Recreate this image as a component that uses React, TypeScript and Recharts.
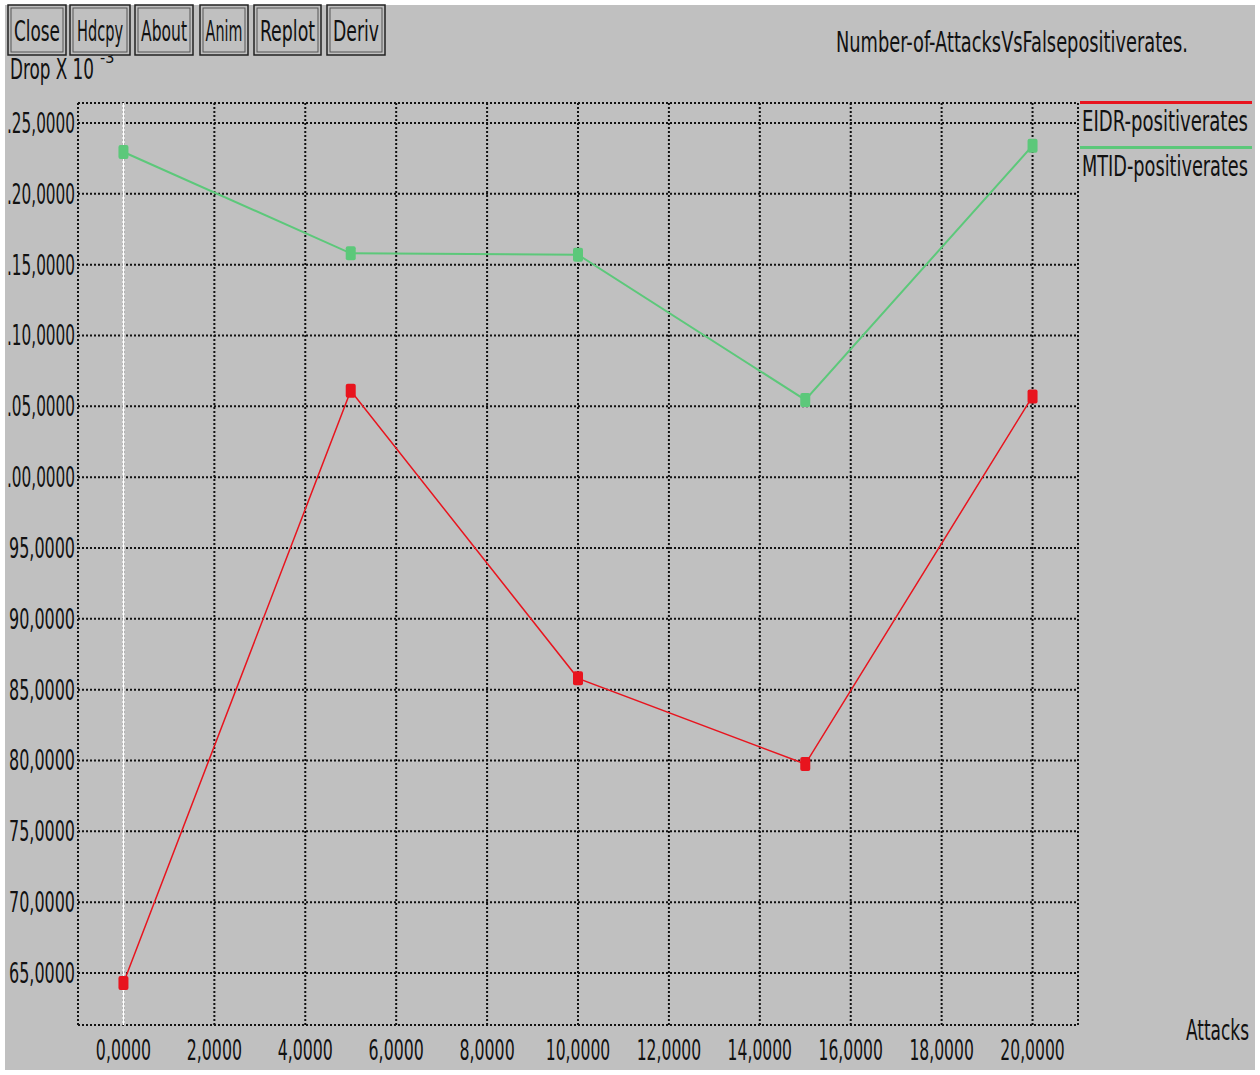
import { LineChart, Line, XAxis, YAxis, CartesianGrid, ReferenceLine } from "recharts";

const attacks = [0, 5, 10, 15, 20];
const eidrRates = [64.3, 106.1, 85.8, 79.75, 105.7];
const mtidRates = [122.95, 115.8, 115.7, 105.45, 123.4];
const xTicks = [0, 2, 4, 6, 8, 10, 12, 14, 16, 18, 20];
const yTicks = [65, 70, 75, 80, 85, 90, 95, 100, 105, 110, 115, 120, 125];
const seriesNames = ["EIDR-positiverates", "MTID-positiverates"];
const seriesColors = ["#e8141e", "#5cc87a"];
const buttons = ["Close", "Hdcpy", "About", "Anim", "Replot", "Deriv"];
const buttonX = [8, 70, 135, 200, 254, 327];
const buttonW = [58, 60, 58, 48, 67, 58];

const data = attacks.map((a, i) => ({ x: a, eidr: eidrRates[i], mtid: mtidRates[i] }));

const FONT = "'DejaVu Sans Condensed', 'DejaVu Sans', sans-serif";
const CW = 9.3; // cell width of the narrow font

// narrow, tall text squeezed to a fixed width
const Txt = ({ x, y, s, w, anchor = "start", fill = "#111", size = 28 }: any) => {
  const len = w ?? s.length * CW;
  const x0 = anchor === "end" ? x - len : anchor === "middle" ? x - len / 2 : x;
  return (
    <text x={x0} y={y} fontFamily={FONT} fontSize={size} fill={fill} textLength={len} lengthAdjust="spacingAndGlyphs">
      {s}
    </text>
  );
};

const yLabel = (v: number) => (v >= 100 ? "." + String(v - 100).padStart(2, "0") + ",0000" : v + ",0000");

const YTick = ({ y, payload }: any) => {
  const s = yLabel(payload.value);
  return <Txt x={75} y={y + 10} s={s} w={s.startsWith(".") ? 68 : 66} anchor="end" />;
};

const XTick = ({ x, y, payload }: any) => {
  const s = payload.value + ",0000";
  return <Txt x={x} y={y + 27} s={s} w={s.length * 9.2} anchor="middle" />;
};

const Marker = ({ cx, cy, stroke }: any) => <rect x={cx - 5} y={cy - 7} width={10} height={14} rx={2} fill={stroke} />;

export default function App() {
  return (
    <div style={{ position: "absolute", left: 0, top: 0, width: 1260, height: 1075, background: "#fff" }}>
      <div style={{ position: "absolute", left: 5, top: 5, width: 1250, height: 1065, background: "#c0c0c0" }} />
      <div style={{ position: "absolute", left: 0, top: 0 }}>
        <LineChart width={1260} height={1075} data={data} margin={{ top: 103, right: 182, bottom: 0, left: 8 }}>
          <CartesianGrid stroke="#111" strokeWidth={2} strokeDasharray="2 2" />
          <ReferenceLine x={-1} stroke="#111" strokeWidth={2} strokeDasharray="2 2" />
          <ReferenceLine x={21} stroke="#111" strokeWidth={2} strokeDasharray="2 2" />
          <ReferenceLine y={61.33} stroke="#111" strokeWidth={2} strokeDasharray="2 2" />
          <ReferenceLine y={126.41} stroke="#111" strokeWidth={2} strokeDasharray="2 2" />
          <ReferenceLine x={0} stroke="#fff" strokeWidth={2} />
          <XAxis
            dataKey="x"
            type="number"
            domain={[-1, 21]}
            ticks={xTicks}
            axisLine={false}
            tickLine={false}
            height={50}
            tick={<XTick />}
            allowDataOverflow
          />
          <YAxis
            type="number"
            domain={[61.33, 126.41]}
            ticks={yTicks}
            axisLine={false}
            tickLine={false}
            width={70}
            tick={<YTick />}
            allowDataOverflow
          />
          <Line
            dataKey="eidr"
            name={seriesNames[0]}
            stroke={seriesColors[0]}
            strokeWidth={1.5}
            dot={<Marker />}
            activeDot={false}
            isAnimationActive={false}
          />
          <Line
            dataKey="mtid"
            name={seriesNames[1]}
            stroke={seriesColors[1]}
            strokeWidth={2}
            dot={<Marker />}
            activeDot={false}
            isAnimationActive={false}
          />
        </LineChart>
      </div>
      <svg width={1260} height={1075} style={{ position: "absolute", left: 0, top: 0, pointerEvents: "none" }}>
        <Txt x={10} y={79} s="Drop X 10" w={84} />
        <text x={100} y={63} fontFamily={FONT} fontSize={16} fill="#111">-3</text>
        {buttons.map((b, i) => (
          <g key={b}>
            <rect x={buttonX[i]} y={5} width={buttonW[i]} height={50} fill="#c0c0c0" stroke="#222" strokeWidth={1.5} />
            <rect x={buttonX[i] + 3} y={8} width={buttonW[i] - 6} height={44} fill="none" stroke="#555" strokeWidth={1} />
            <Txt x={buttonX[i] + buttonW[i] / 2} y={41} s={b} w={b.length * 9.2} anchor="middle" />
          </g>
        ))}
        <Txt x={836} y={52} s="Number-of-AttacksVsFalsepositiverates." w={352} />
        <Txt x={1249} y={1040} s="Attacks" w={63} anchor="end" />
        {seriesNames.map((n, i) => (
          <g key={n}>
            <rect x={1080} y={101 + i * 45} width={172} height={3} fill={seriesColors[i]} />
            <Txt x={1082} y={131 + i * 45} s={n} w={166} />
          </g>
        ))}
      </svg>
    </div>
  );
}
